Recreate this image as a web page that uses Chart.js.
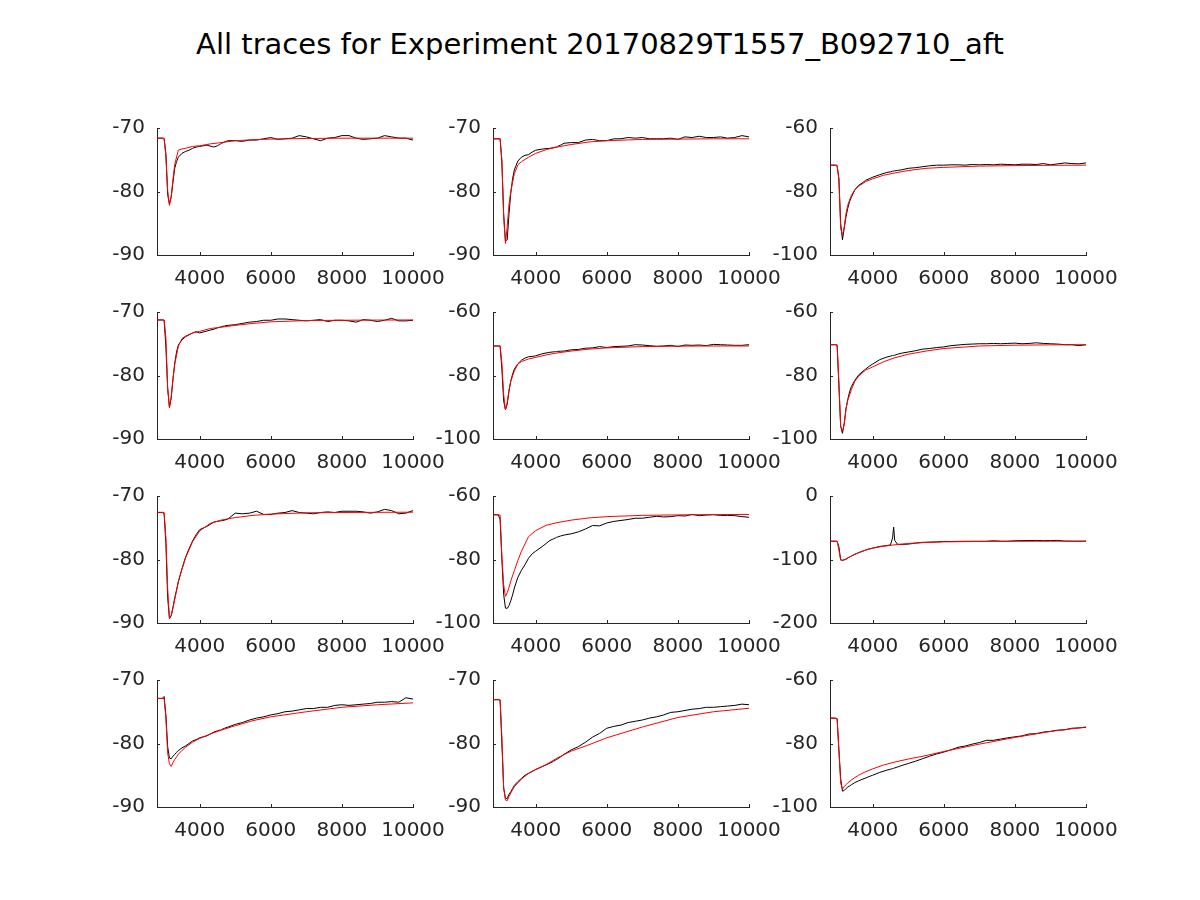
<!DOCTYPE html>
<html lang="en">
<head>
<meta charset="UTF-8">
<title>All traces</title>
<script src="https://cdn.jsdelivr.net/npm/chart.js"></script>
<style>
  body { margin: 0; background: #fff; width: 1200px; height: 900px; position: relative; overflow: hidden; font-family: "DejaVu Sans", sans-serif; }
  #title { position: absolute; left: 0; top: 27px; width: 1200px; text-align: center; font-size: 29px; color: #000; }
  canvas { position: absolute; }
</style>
</head>
<body>
<div id="title">All traces for Experiment 20170829T1557_B092710_aft</div>
<script>
// sample times (ms) of the recorded traces and of the fits
const tTrace = [2800, 2950, 3000, 3050, 3100, 3150, 3200, 3250, 3300, 3350, 3400, 3500, 3600, 3700, 3800, 3900, 4000, 4200, 4400, 4500,
  4560, 4590, 4620, 4700, 4800, 5000, 5200, 5400, 5600, 5800, 6000, 6200, 6400, 6600, 6800, 7000, 7200, 7400, 7600, 7800,
  8000, 8200, 8400, 8600, 8800, 9000, 9200, 9400, 9600, 9800, 10000];
const tFit = [2800, 3000, 3050, 3100, 3150, 3200, 3250, 3300, 3400, 3500, 3600, 3800, 4000, 4300, 4600, 5000, 5500, 6000, 7000, 8000, 9000, 10000];

const xTicks = [4000, 6000, 8000, 10000];
const yTicks = [
  [-90, -80, -70], [-90, -80, -70], [-100, -80, -60],
  [-90, -80, -70], [-100, -80, -60], [-100, -80, -60],
  [-90, -80, -70], [-100, -80, -60], [-200, -100, 0],
  [-90, -80, -70], [-90, -80, -70], [-100, -80, -60]
];

// recorded traces (black)
const trace1 = [-71.6, -71.6, -71.7, -74.0, -80.5, -82.0, -80.8, -78.5, -76.3, -75.3, -74.6, -74.0, -73.7, -73.5, -73.2, -73.0, -72.9, -72.7, -73.0, -72.8,
  -72.6, -72.5, -72.4, -72.2, -72.0, -72.0, -72.1, -71.9, -71.9, -71.7, -71.5, -71.8, -71.7, -71.6, -71.2, -71.4, -71.7, -72.0, -71.6, -71.5,
  -71.2, -71.2, -71.6, -71.8, -71.7, -71.6, -71.2, -71.4, -71.6, -71.6, -71.9];
const trace2 = [-71.7, -71.7, -71.7, -75.5, -83.5, -87.8, -87.6, -83.5, -80.3, -78, -76.6, -75.2, -74.6, -74.3, -74.2, -73.8, -73.5, -73.3, -73.2, -73.1,
  -73.0, -73.0, -72.9, -72.7, -72.4, -72.3, -72.3, -71.9, -71.8, -72.0, -72.0, -71.7, -71.7, -71.5, -71.6, -71.5, -71.7, -71.7, -71.7, -71.6,
  -71.8, -71.4, -71.5, -71.3, -71.5, -71.5, -71.4, -71.6, -71.5, -71.2, -71.4];
const trace3 = [-71.7, -71.7, -72.0, -76, -90, -95.2, -91.6, -87.9, -85.3, -83.2, -81.8, -79.5, -78.1, -77.4, -76.5, -76.0, -75.5, -74.7, -74.0, -73.8,
  -73.6, -73.55, -73.5, -73.35, -73.2, -72.7, -72.5, -72.2, -71.9, -71.7, -71.7, -71.6, -71.6, -71.7, -71.5, -71.6, -71.5, -71.6, -71.4, -71.5,
  -71.6, -71.4, -71.4, -71.5, -71.2, -71.6, -71.3, -71.0, -71.2, -71.3, -71.0];
const trace4 = [-71.25, -71.25, -71.3, -75.5, -82, -85, -83.5, -80.5, -78, -76.3, -75.2, -74.4, -73.9, -73.6, -73.3, -73.1, -73.3, -73.0, -72.7, -72.5,
  -72.4, -72.35, -72.3, -72.2, -72.1, -72.0, -71.8, -71.6, -71.5, -71.3, -71.3, -71.1, -71.1, -71.2, -71.3, -71.4, -71.3, -71.2, -71.5, -71.3,
  -71.3, -71.4, -71.6, -71.2, -71.3, -71.5, -71.3, -71.0, -71.4, -71.4, -71.3];
const trace5 = [-70.7, -70.7, -70.7, -78, -88, -90.8, -89, -85, -81.8, -79.6, -78, -76.3, -75.2, -74.5, -74.1, -74.0, -73.8, -73.1, -72.7, -72.55,
  -72.5, -72.45, -72.4, -72.35, -72.3, -71.9, -71.8, -71.4, -71.3, -70.9, -71.2, -70.9, -70.8, -70.7, -70.3, -70.4, -70.6, -70.8, -70.7, -70.5,
  -70.9, -70.4, -70.5, -70.4, -70.6, -70.2, -70.3, -70.4, -70.5, -70.5, -70.3];
const trace6 = [-70.3, -70.3, -70.5, -83, -96, -98.2, -95, -90.5, -87.5, -85.2, -83.5, -81.5, -79.9, -78.9, -78.0, -77.1, -76.4, -75.0, -74.2, -73.9,
  -73.7, -73.65, -73.6, -73.3, -73.0, -72.6, -72.2, -71.7, -71.5, -71.2, -71.0, -70.6, -70.4, -70.2, -70.1, -70.0, -70.0, -69.9, -70.0, -69.9,
  -69.8, -70.0, -69.9, -69.7, -69.9, -70.0, -70.1, -70.3, -70.3, -70.6, -70.3];
const trace7 = [-72.6, -72.6, -72.8, -77.5, -86, -89.3, -88.8, -87.5, -86.0, -84.8, -83.5, -81.5, -79.7, -78.3, -77.1, -76.1, -75.3, -74.8, -74.1, -74.0,
  -73.95, -73.9, -73.9, -73.8, -73.6, -72.7, -72.8, -72.7, -72.4, -72.9, -72.9, -72.7, -72.6, -72.3, -72.6, -72.7, -72.8, -72.6, -72.5, -72.6,
  -72.4, -72.4, -72.4, -72.5, -72.7, -72.5, -72.1, -72.3, -72.8, -72.7, -72.3];
const trace8 = [-65.9, -65.9, -67.5, -80, -91, -95.3, -95.4, -94.5, -93, -91.2, -89, -85.6, -83.4, -81.6, -79.6, -78.2, -77.4, -75.8, -74.0, -73.5,
  -73.2, -73.0, -72.9, -72.6, -72.3, -71.9, -71.3, -70.4, -69.3, -69.4, -68.5, -68.0, -67.7, -67.4, -67.0, -67.0, -66.7, -66.4, -66.6, -66.5,
  -66.2, -66.3, -65.8, -66.2, -66.0, -65.9, -66.1, -66.1, -66.2, -66.5, -66.7];
const trace9 = [-71.2, -71.2, -71.5, -80, -100.5, -101.3, -100.5, -99.5, -97.5, -96, -94.8, -91.8, -89.3, -87.2, -85.2, -83.3, -82, -79.5, -78, -77,
  -66, -49, -70, -76, -76.3, -75.8, -74.2, -73.0, -72.6, -72.3, -71.6, -71.7, -71.5, -71.4, -71.3, -71.3, -71.3, -70.5, -71.2, -71.2,
  -70.5, -70.3, -70.1, -70.0, -70.3, -70.2, -69.9, -71.0, -71.2, -71.2, -71.2];
const trace10 = [-72.9, -72.9, -72.6, -75.5, -80.5, -82.3, -82.4, -82.0, -81.7, -81.4, -81.1, -80.7, -80.4, -80.0, -79.6, -79.4, -79.1, -78.8, -78.2, -78.0,
  -77.9, -77.9, -77.8, -77.6, -77.4, -77.0, -76.7, -76.3, -76.0, -75.8, -75.5, -75.3, -75.0, -74.9, -74.7, -74.5, -74.5, -74.3, -74.3, -74.0,
  -73.9, -74.0, -73.9, -73.8, -73.7, -73.5, -73.5, -73.4, -73.5, -72.8, -73.0];
const trace11 = [-73.1, -73.1, -73.2, -80, -87, -88.6, -88.7, -88.0, -87.6, -87.1, -86.6, -86.0, -85.5, -85.0, -84.7, -84.4, -84.1, -83.6, -83.1, -82.8,
  -82.6, -82.5, -82.4, -82.1, -81.7, -81.0, -80.5, -79.8, -79.0, -78.4, -77.6, -77.3, -77.1, -76.7, -76.5, -76.3, -76.0, -75.8, -75.5, -75.1,
  -75.0, -74.8, -74.6, -74.5, -74.3, -74.3, -74.2, -74.1, -74.0, -73.8, -73.9];
const trace12 = [-72.0, -72.0, -72.2, -82, -91, -95.0, -94.8, -94.2, -93.7, -93.4, -93.0, -92.3, -91.8, -91.3, -90.9, -90.4, -90.0, -89.1, -88.4, -88.1,
  -87.9, -87.8, -87.7, -87.4, -87.0, -86.3, -85.6, -84.8, -84.0, -83.3, -82.7, -82.0, -81.2, -80.8, -80.2, -79.7, -79.0, -79.0, -78.6, -78.2,
  -77.9, -77.6, -77.0, -76.9, -76.4, -76.2, -75.8, -75.7, -75.2, -75.1, -74.9];

// fitted curves (red)
const fit1 = [-71.6, -71.6, -74.5, -79.8, -82.2, -80.8, -78.0, -75.7, -73.5, -73.3, -73.2, -72.9, -72.8, -72.5, -72.3, -72.0, -71.85, -71.75, -71.65, -71.6, -71.6, -71.6];
const fit2 = [-71.7, -71.7, -75, -84, -88.2, -85.5, -82, -80, -77.2, -75.8, -75.3, -74.6, -74.0, -73.4, -73.0, -72.6, -72.2, -72.0, -71.8, -71.75, -71.7, -71.7];
const fit3 = [-71.7, -71.7, -76, -91.5, -93.8, -91.2, -86.9, -84.3, -81.2, -79.4, -78.4, -76.9, -76.0, -74.9, -74.2, -73.4, -72.7, -72.4, -72.0, -71.85, -71.75, -71.7];
const fit4 = [-71.25, -71.25, -74, -82, -85.1, -83.3, -80.5, -78.2, -75.4, -74.2, -73.8, -73.3, -73.05, -72.6, -72.4, -72.1, -71.8, -71.55, -71.35, -71.3, -71.27, -71.25];
const fit5 = [-70.7, -70.7, -76, -86, -90.8, -88.5, -84.5, -81.8, -78.6, -76.4, -75.6, -74.8, -74.3, -73.5, -72.9, -72.3, -71.7, -71.3, -70.9, -70.75, -70.7, -70.7];
const fit6 = [-70.3, -70.3, -82, -96, -97.5, -95.5, -90.5, -87.8, -84.5, -81.8, -80.3, -78.3, -77.3, -75.7, -74.5, -73.3, -72.3, -71.5, -70.7, -70.45, -70.35, -70.3];
const fit7 = [-72.57, -72.57, -76.5, -84.5, -89.2, -88.9, -87.6, -86.3, -83.5, -81.6, -79.8, -77.2, -75.5, -74.3, -73.8, -73.4, -73.05, -72.85, -72.65, -72.6, -72.57, -72.55];
const fit8 = [-65.9, -66.0, -79, -88, -91.6, -90.5, -88.8, -86.8, -83.5, -80.3, -77.4, -72.8, -70.9, -69.2, -68.4, -67.6, -66.9, -66.5, -66.1, -65.95, -65.85, -65.8];
const fit9 = [-71.2, -71.2, -85, -101, -101.3, -100.3, -99.5, -97.8, -94.5, -91.5, -89.6, -85.2, -82.2, -79.2, -77.0, -74.8, -73.2, -72.2, -71.6, -71.3, -71.2, -71.2];
const fit10 = [-72.9, -72.9, -76, -81.5, -83.2, -83.6, -83.0, -82.5, -81.7, -81.1, -80.6, -79.8, -79.2, -78.5, -77.9, -77.2, -76.4, -75.8, -75.0, -74.3, -73.9, -73.6];
const fit11 = [-73.1, -73.1, -79, -87, -88.9, -89.0, -88.3, -87.8, -86.8, -86.2, -85.6, -84.7, -84.1, -83.3, -82.3, -81.2, -80.2, -79.1, -77.4, -75.9, -75.0, -74.45];
const fit12 = [-72.0, -72.1, -82, -92.5, -94.4, -93.6, -93.0, -92.4, -91.5, -90.7, -90.0, -88.9, -88.0, -86.8, -85.9, -84.9, -83.8, -82.5, -80.2, -78.1, -76.2, -74.8];

const traces = [trace1, trace2, trace3, trace4, trace5, trace6, trace7, trace8, trace9, trace10, trace11, trace12];
const fits = [fit1, fit2, fit3, fit4, fit5, fit6, fit7, fit8, fit9, fit10, fit11, fit12];

// panel grid placement
const colLeft = [157, 493, 830];
const rowTop = [128, 312, 496, 680];
const plotW = 256, plotH = 127;
const padL = 70, padT = 20, padR = 40, padB = 45;

Chart.defaults.font.family = '"DejaVu Sans", sans-serif';
Chart.defaults.font.size = 20;
Chart.defaults.color = '#262626';
Chart.defaults.animation = false;

// short tick marks pointing into the plot
const innerTicks = {
  id: 'innerTicks',
  afterDraw(chart) {
    const { ctx, chartArea: a, scales } = chart;
    ctx.save();
    ctx.strokeStyle = '#262626';
    ctx.lineWidth = 1;
    ctx.beginPath();
    scales.x.ticks.forEach(t => {
      const px = Math.round(scales.x.getPixelForValue(t.value)) + 0.5;
      ctx.moveTo(px, a.bottom);
      ctx.lineTo(px, a.bottom - 3);
    });
    scales.y.ticks.forEach(t => {
      const py = Math.round(scales.y.getPixelForValue(t.value)) + 0.5;
      ctx.moveTo(a.left, py);
      ctx.lineTo(a.left + 3, py);
    });
    ctx.stroke();
    ctx.restore();
  }
};

const plain = v => String(v);

for (let i = 0; i < 12; i++) {
  const r = Math.floor(i / 3), c = i % 3;
  const cv = document.createElement('canvas');
  cv.width = plotW + padL + padR;
  cv.height = plotH + padT + padB;
  cv.style.left = (colLeft[c] - padL) + 'px';
  cv.style.top = (rowTop[r] - padT) + 'px';
  document.body.appendChild(cv);

  const yt = yTicks[i];
  new Chart(cv, {
    type: 'line',
    data: {
      datasets: [
        {
          data: tFit.map((t, k) => ({ x: t, y: fits[i][k] })),
          borderColor: '#ff0000', borderWidth: 1, pointRadius: 0, tension: 0
        },
        {
          data: tTrace.map((t, k) => ({ x: t, y: traces[i][k] })),
          borderColor: '#000000', borderWidth: 1, pointRadius: 0, tension: 0
        }
      ]
    },
    options: {
      responsive: false,
      devicePixelRatio: 1,
      layout: { padding: { top: padT, right: padR, left: 0, bottom: 0 } },
      plugins: { legend: { display: false }, tooltip: { enabled: false } },
      scales: {
        x: {
          type: 'linear', min: 2800, max: 10000,
          grid: { display: false },
          border: { display: true, color: '#262626', width: 1 },
          ticks: { padding: 4, maxRotation: 0, callback: plain },
          afterBuildTicks: s => { s.ticks = xTicks.map(v => ({ value: v })); },
          afterFit: s => { s.height = padB; }
        },
        y: {
          min: yt[0], max: yt[2],
          grid: { display: false },
          border: { display: true, color: '#262626', width: 1 },
          ticks: { padding: 4, callback: plain },
          afterBuildTicks: s => { s.ticks = yt.map(v => ({ value: v })); },
          afterFit: s => { s.width = padL; }
        }
      }
    },
    plugins: [innerTicks]
  });
}
</script>
</body>
</html>
